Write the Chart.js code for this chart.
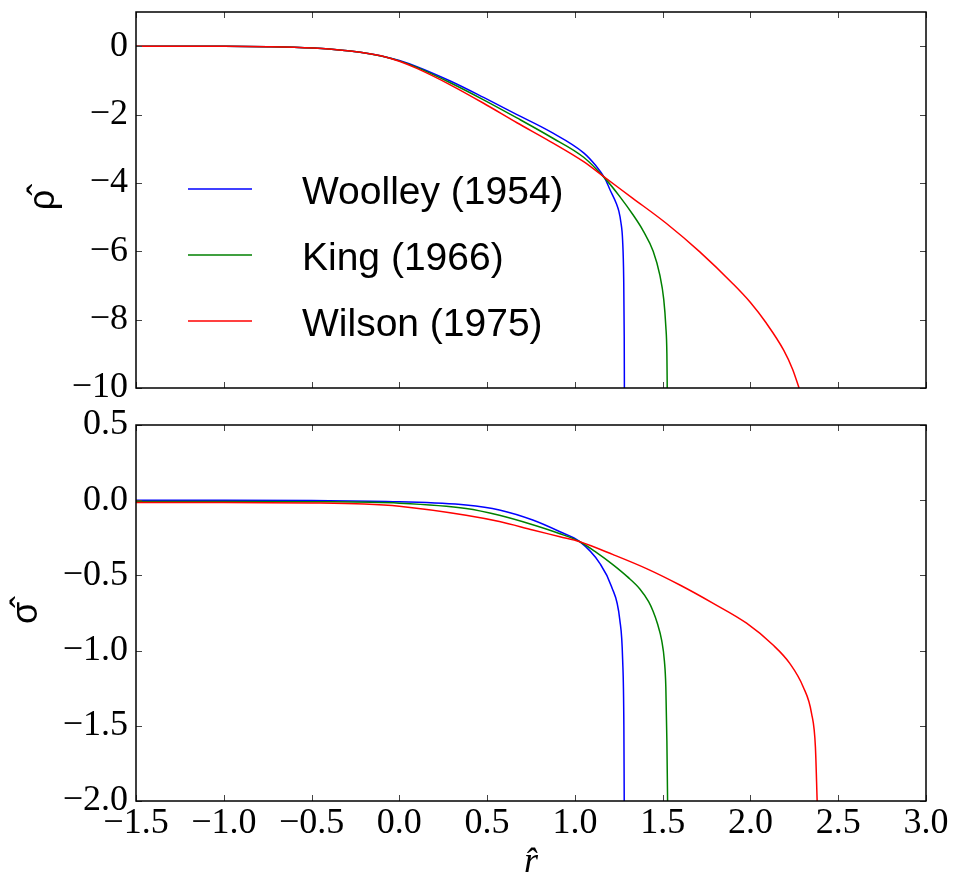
<!DOCTYPE html>
<html>
<head>
<meta charset="utf-8">
<script src="https://cdn.jsdelivr.net/npm/chart.js@4.4.1/dist/chart.umd.min.js"></script>
<style>
    html, body { margin: 0; padding: 0; background: #fff; overflow: hidden; }
    #contenedor { position: relative; width: 955px; height: 876px; }
    #graficoRho { position: absolute; left: 0; top: -30px; }
    #graficoSigma { position: absolute; left: 0; top: 383px; }
</style>
</head>
<body>
<div id="contenedor">
    <canvas id="graficoRho" width="955" height="450"></canvas>
    <canvas id="graficoSigma" width="955" height="493"></canvas>
</div>
<script>
const ejeR = [-1.5, -1.0, -0.5, 0.0, 0.5, 1.0, 1.5, 2.0, 2.5, 3.0]
const ticksRho = [-10, -8, -6, -4, -2, 0]
const ticksSigma = [-2.0, -1.5, -1.0, -0.5, 0.0, 0.5]

const nombres = ['Woolley (1954)', 'King (1966)', 'Wilson (1975)']
const colores = ['#0000ff', '#008000', '#ff0000']

// perfiles de densidad
const rWoolleyRho = [-1.5, -1.0, -0.75, -0.6, -0.4, -0.28, -0.17, -0.09, 0.0, 0.1, 0.29, 0.48, 0.67, 0.86, 1.05, 1.12, 1.17, 1.2, 1.236, 1.25, 1.262, 1.272, 1.278, 1.281, 1.282]
const rhoWoolley = [0, -0.005, -0.015, -0.03, -0.08, -0.14, -0.22, -0.3, -0.42, -0.6, -1.02, -1.5, -2.0, -2.5, -3.12, -3.5, -3.86, -4.2, -4.6, -4.82, -5.15, -5.7, -6.8, -8.5, -10]

const rKingRho = [-1.5, -1.0, -0.75, -0.6, -0.4, -0.28, -0.17, -0.09, 0.0, 0.1, 0.29, 0.48, 0.67, 0.86, 1.05, 1.17, 1.256, 1.332, 1.389, 1.446, 1.484, 1.506, 1.518, 1.524, 1.526]
const rhoKing = [0, -0.005, -0.015, -0.03, -0.08, -0.14, -0.22, -0.3, -0.43, -0.62, -1.07, -1.57, -2.1, -2.65, -3.25, -3.86, -4.4, -4.94, -5.4, -6.0, -6.7, -7.4, -8.2, -9.0, -10]

const rWilsonRho = [-1.5, -1.0, -0.75, -0.6, -0.4, -0.28, -0.17, -0.09, 0.0, 0.1, 0.29, 0.48, 0.67, 0.86, 1.05, 1.17, 1.33, 1.52, 1.71, 1.9, 2.0, 2.09, 2.19, 2.24, 2.277]
const rhoWilson = [0, -0.005, -0.015, -0.03, -0.08, -0.14, -0.22, -0.3, -0.44, -0.65, -1.13, -1.67, -2.24, -2.79, -3.38, -3.84, -4.45, -5.18, -6.01, -6.95, -7.5, -8.1, -8.9, -9.45, -10]

// perfiles de dispersion
const rWoolleySigma = [-1.5, -1.0, -0.5, 0.0, 0.38, 0.57, 0.76, 0.915, 1.028, 1.142, 1.209, 1.256, 1.272, 1.279, 1.281]
const sigmaWoolley = [0.0, 0.0, -0.002, -0.01, -0.032, -0.065, -0.132, -0.21, -0.276, -0.42, -0.575, -0.797, -1.06, -1.5, -2.0]

const rKingSigma = [-1.5, -1.0, -0.5, 0.0, 0.38, 0.57, 0.76, 0.915, 1.028, 1.12, 1.218, 1.3, 1.37, 1.42, 1.446, 1.47, 1.494, 1.51, 1.518, 1.524, 1.528]
const sigmaKing = [-0.008, -0.008, -0.01, -0.02, -0.055, -0.1, -0.163, -0.223, -0.276, -0.345, -0.43, -0.51, -0.59, -0.675, -0.74, -0.82, -0.93, -1.07, -1.24, -1.6, -2.0]

const rWilsonSigma = [-1.5, -1.0, -0.5, -0.2, 0.0, 0.38, 0.57, 0.76, 0.915, 1.028, 1.218, 1.408, 1.598, 1.788, 1.978, 2.129, 2.224, 2.3, 2.348, 2.37, 2.38]
const sigmaWilson = [-0.015, -0.015, -0.018, -0.025, -0.04, -0.1, -0.142, -0.198, -0.243, -0.276, -0.362, -0.455, -0.564, -0.686, -0.818, -0.963, -1.085, -1.24, -1.417, -1.64, -2.0]

const fuenteTicks = { family: '"Liberation Serif", serif', size: 36 }
const fuenteTitulo = { family: '"Liberation Sans", sans-serif', size: 36 }

const formatear = (v, dec) => (v < 0 ? '\u2212' : '') + Math.abs(v).toFixed(dec)

const puntos = (xs, ys) => xs.map((x, i) => ({ x, y: ys[i] }))

const armarDatasets = (pares) => pares.map(([xs, ys], i) => ({
    label: nombres[i],
    data: puntos(xs, ys),
    borderColor: colores[i],
    borderWidth: 1.5,
    pointRadius: 0,
    fill: false,
    cubicInterpolationMode: 'monotone',
    order: pares.length - 1 - i
}))

// marco negro con ticks hacia adentro en los cuatro lados
const crearMarco = (ticksY) => ({
    id: 'marco',
    afterDatasetsDraw(chart) {
        const { ctx, chartArea: a, scales } = chart
        const largo = 6
        ctx.save()
        ctx.strokeStyle = '#444'
        ctx.lineWidth = 1
        ctx.beginPath()
        ejeR.forEach(v => {
            const px = Math.round(scales.x.getPixelForValue(v)) + 0.5
            ctx.moveTo(px, a.bottom)
            ctx.lineTo(px, a.bottom - largo)
            ctx.moveTo(px, a.top)
            ctx.lineTo(px, a.top + largo)
        })
        ticksY.forEach(v => {
            const py = Math.round(scales.y.getPixelForValue(v)) + 0.5
            ctx.moveTo(a.left, py)
            ctx.lineTo(a.left + largo, py)
            ctx.moveTo(a.right, py)
            ctx.lineTo(a.right - largo, py)
        })
        ctx.stroke()
        ctx.strokeStyle = '#000'
        ctx.lineWidth = 1.5
        ctx.strokeRect(a.left, a.top, a.right - a.left, a.bottom - a.top)
        ctx.restore()
    }
})

const leyenda = {
    id: 'leyenda',
    afterDraw(chart) {
        const { ctx, chartArea: a } = chart
        ctx.save()
        ctx.font = '39px "Liberation Sans", sans-serif'
        ctx.textBaseline = 'alphabetic'
        ctx.fillStyle = '#000'
        chart.data.datasets.forEach((ds, i) => {
            const y = a.top + 177 + i * 66
            ctx.strokeStyle = ds.borderColor
            ctx.lineWidth = 1.5
            ctx.beginPath()
            ctx.moveTo(a.left + 52, y)
            ctx.lineTo(a.left + 116, y)
            ctx.stroke()
            ctx.fillText(ds.label, a.left + 166, y + 15)
        })
        ctx.restore()
    }
}

function ejeY(min, max, ticks, dec, titulo, padTitulo) {
    return {
        type: 'linear',
        min, max,
        afterBuildTicks: s => { s.ticks = ticks.map(value => ({ value })) },
        afterFit: s => { s.width = 136 },
        grid: { display: false, drawTicks: false },
        border: { display: false },
        ticks: {
            color: '#000',
            padding: 8,
            font: fuenteTicks,
            callback: v => formatear(v, dec)
        },
        title: {
            display: true,
            text: titulo,
            color: '#000',
            font: fuenteTitulo,
            padding: { top: padTitulo, bottom: 0 }
        }
    }
}

function crearGraficoRho() {
    const ctx = document.getElementById('graficoRho').getContext('2d')
    return new Chart(ctx, {
        type: 'line',
        data: {
            datasets: armarDatasets([
                [rWoolleyRho, rhoWoolley],
                [rKingRho, rhoKing],
                [rWilsonRho, rhoWilson]
            ])
        },
        plugins: [crearMarco(ticksRho), leyenda],
        options: {
            responsive: false,
            animation: false,
            events: [],
            layout: { padding: { top: 42, right: 29, bottom: 32, left: 0 } },
            plugins: { legend: { display: false }, tooltip: { enabled: false } },
            scales: {
                x: { type: 'linear', min: -1.5, max: 3.0, display: false },
                y: ejeY(-10, 1, ticksRho, 0, '\u03C1\u0302', 22)
            }
        }
    })
}

function crearGraficoSigma() {
    const ctx = document.getElementById('graficoSigma').getContext('2d')
    return new Chart(ctx, {
        type: 'line',
        data: {
            datasets: armarDatasets([
                [rWoolleySigma, sigmaWoolley],
                [rKingSigma, sigmaKing],
                [rWilsonSigma, sigmaWilson]
            ])
        },
        plugins: [crearMarco(ticksSigma)],
        options: {
            responsive: false,
            animation: false,
            events: [],
            layout: { padding: { top: 42, right: 29, bottom: 0, left: 0 } },
            plugins: { legend: { display: false }, tooltip: { enabled: false } },
            scales: {
                x: {
                    type: 'linear',
                    min: -1.5, max: 3.0,
                    afterBuildTicks: s => { s.ticks = ejeR.map(value => ({ value })) },
                    afterFit: s => { s.height = 75 },
                    grid: { display: false, drawTicks: false },
                    border: { display: false },
                    ticks: {
                        color: '#000',
                        padding: 1,
                        autoSkip: false,
                        maxRotation: 0,
                        minRotation: 0,
                        font: fuenteTicks,
                        callback: v => formatear(v, 1)
                    },
                    title: {
                        display: true,
                        text: 'r\u0302',
                        color: '#000',
                        font: { family: '"Liberation Serif", serif', size: 36, style: 'italic', lineHeight: 1 },
                        padding: { top: 0, bottom: -5 }
                    }
                },
                y: ejeY(-2.0, 0.5, ticksSigma, 1, '\u03C3\u0302', 5)
            }
        }
    })
}

crearGraficoRho()
crearGraficoSigma()
</script>
</body>
</html>
